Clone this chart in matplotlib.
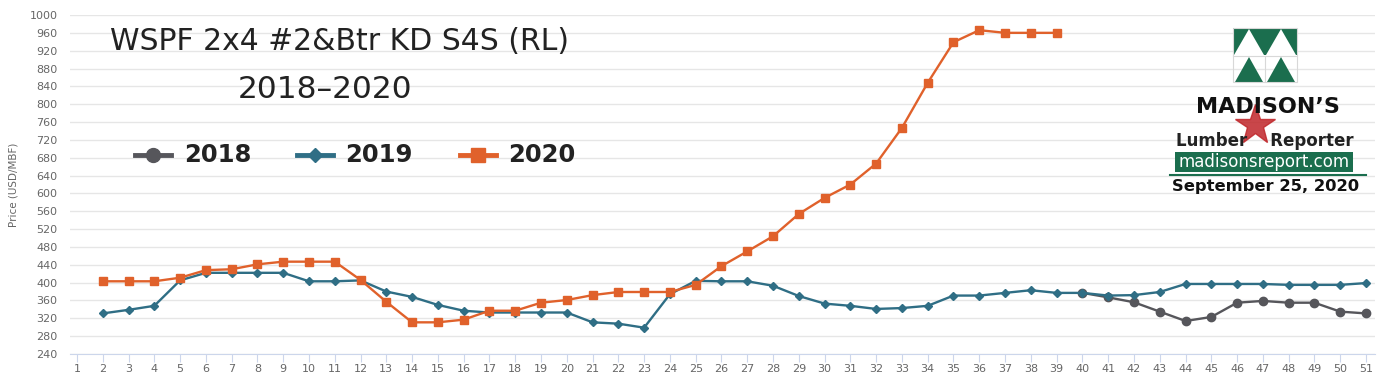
import matplotlib.pyplot as plt
from matplotlib.lines import Line2D
from matplotlib.patches import Rectangle, Polygon

# Weekly prices, USD/MBF (week number on x)
weeks_2018 = list(range(40, 52))
price_2018 = [377, 367, 356, 335, 314, 323, 355, 359, 355, 355, 335, 331]

weeks_2019 = list(range(2, 52))
price_2019 = [331, 339, 348, 405, 422, 422, 422, 422, 403, 403, 405, 380, 368, 350,
              337, 333, 333, 333, 333, 311, 308, 299, 374, 404, 403, 403, 393, 370,
              353, 348, 341, 343, 348, 371, 371, 377, 383, 377, 377, 371, 372, 379,
              397, 397, 397, 397, 395, 395, 395, 399]

weeks_2020 = list(range(2, 40))
price_2020 = [403, 403, 403, 411, 428, 430, 441, 447, 447, 447, 406, 357, 311, 311,
              317, 337, 337, 355, 361, 372, 379, 379, 379, 395, 437, 470, 504, 554,
              590, 620, 667, 747, 848, 939, 966, 960, 960, 960]

y_ticks = list(range(240, 1001, 40))

c2018 = '#56565b'
c2019 = '#2f6e85'
c2020 = '#e0612b'

W, H = 1390, 386
fig = plt.figure(figsize=(W / 100, H / 100), dpi=100)
ax = fig.add_axes([70 / W, (H - 354) / H, (1375 - 70) / W, 339 / H])

ax.plot(weeks_2018, price_2018, color=c2018, lw=1.7, marker='o', ms=6, zorder=3)
ax.plot(weeks_2019, price_2019, color=c2019, lw=1.7, marker='D', ms=4, zorder=4)
ax.plot(weeks_2020, price_2020, color=c2020, lw=1.7, marker='s', ms=6, zorder=5)

ax.set_xlim(0.73, 51.35)
ax.set_ylim(240, 1000)
ax.set_xticks(range(1, 52))
ax.set_yticks(y_ticks)
ax.grid(axis='y', color='#e6e6e6', lw=1)
ax.set_axisbelow(True)
for s in ['top', 'right', 'left']:
    ax.spines[s].set_visible(False)
ax.spines['bottom'].set_color('#ccd6eb')
ax.tick_params(axis='x', colors='#ccd6eb', length=6, labelcolor='#666666', labelsize=8, pad=1)
ax.tick_params(axis='y', length=0, labelcolor='#666666', labelsize=8, pad=9)
ax.set_ylabel('Price (USD/MBF)', color='#666666', fontsize=7.5, labelpad=8)

# title block
fig.text(340 / W, 1 - 42 / H, 'WSPF 2x4 #2&Btr KD S4S (RL)', fontsize=21.5,
         color='#222222', ha='center', va='center')
fig.text(325 / W, 1 - 90 / H, '2018\u20132020', fontsize=22.5,
         color='#222222', ha='center', va='center')

# legend drawn by hand
leg = [(135, c2018, 'o', 10, '2018', 184), (297, c2019, 'D', 7, '2019', 345),
       (460, c2020, 's', 10, '2020', 508)]
for x0, col, mk, ms, lab, tx in leg:
    fig.add_artist(Line2D([x0 / W, (x0 + 36) / W], [1 - 155 / H] * 2, color=col, lw=3.5))
    fig.add_artist(Line2D([(x0 + 18) / W], [1 - 155 / H], color=col, marker=mk, ms=ms))
    fig.text(tx / W, 1 - 155 / H, lab, fontsize=17.5, fontweight='bold',
             color='#222222', ha='left', va='center')

# Madison's logo
green = '#1b6e4e'
lx, ly, lw_, lh = 1233, 28, 64, 54
fig.add_artist(Rectangle((lx / W, 1 - (ly + lh / 2) / H), lw_ / W, lh / 2 / H,
                         transform=fig.transFigure, fc=green, ec='none'))
for k in range(2):
    xa = lx + k * lw_ / 2
    # white triangles on green in the top half
    fig.add_artist(Polygon([((xa + 1) / W, 1 - (ly + lh / 2) / H),
                            ((xa + lw_ / 2 - 1) / W, 1 - (ly + lh / 2) / H),
                            ((xa + lw_ / 4) / W, 1 - (ly + 1) / H)],
                           transform=fig.transFigure, fc='white', ec='none'))
    # green triangles on white in the bottom half
    fig.add_artist(Polygon([((xa + 2) / W, 1 - (ly + lh) / H),
                            ((xa + lw_ / 2 - 2) / W, 1 - (ly + lh) / H),
                            ((xa + lw_ / 4) / W, 1 - (ly + lh / 2 + 2) / H)],
                           transform=fig.transFigure, fc=green, ec='none'))
fig.add_artist(Line2D([lx / W, (lx + lw_) / W], [1 - (ly + lh / 2 + 1) / H] * 2,
                      color='#d8d8d8', lw=0.8))
fig.add_artist(Line2D([(lx + lw_ / 2) / W] * 2, [1 - (ly + lh / 2 + 1) / H, 1 - (ly + lh) / H],
                      color='#d8d8d8', lw=0.8))
fig.add_artist(Rectangle((lx / W, 1 - (ly + lh) / H), lw_ / W, lh / H,
                         transform=fig.transFigure, fc='none', ec='#d8d8d8', lw=0.8))
fig.text(1268 / W, 1 - 107 / H, "MADISON\u2019S", fontsize=16, fontweight='bold',
         color='#111111', ha='center', va='center')
fig.add_artist(Line2D([1255 / W], [1 - 125 / H], marker='*', ms=30, color='#c0262a', alpha=0.85))
fig.text(1265 / W, 1 - 141 / H, 'Lumber    Reporter', fontsize=12, fontweight='bold',
         color='#222222', ha='center', va='center')
fig.add_artist(Rectangle((1175 / W, 1 - 172 / H), 178 / W, 20 / H,
                         transform=fig.transFigure, fc=green, ec='none'))
fig.text(1264 / W, 1 - 162 / H, 'madisonsreport.com', fontsize=12, color='white',
         ha='center', va='center')
fig.add_artist(Line2D([1170 / W, 1366 / W], [1 - 175 / H] * 2, color=green, lw=1.5))
fig.text(1266 / W, 1 - 187 / H, 'September 25, 2020', fontsize=11.8, fontweight='bold',
         color='#111111', ha='center', va='center')

fig.savefig('out.png', dpi=100, facecolor='white')
